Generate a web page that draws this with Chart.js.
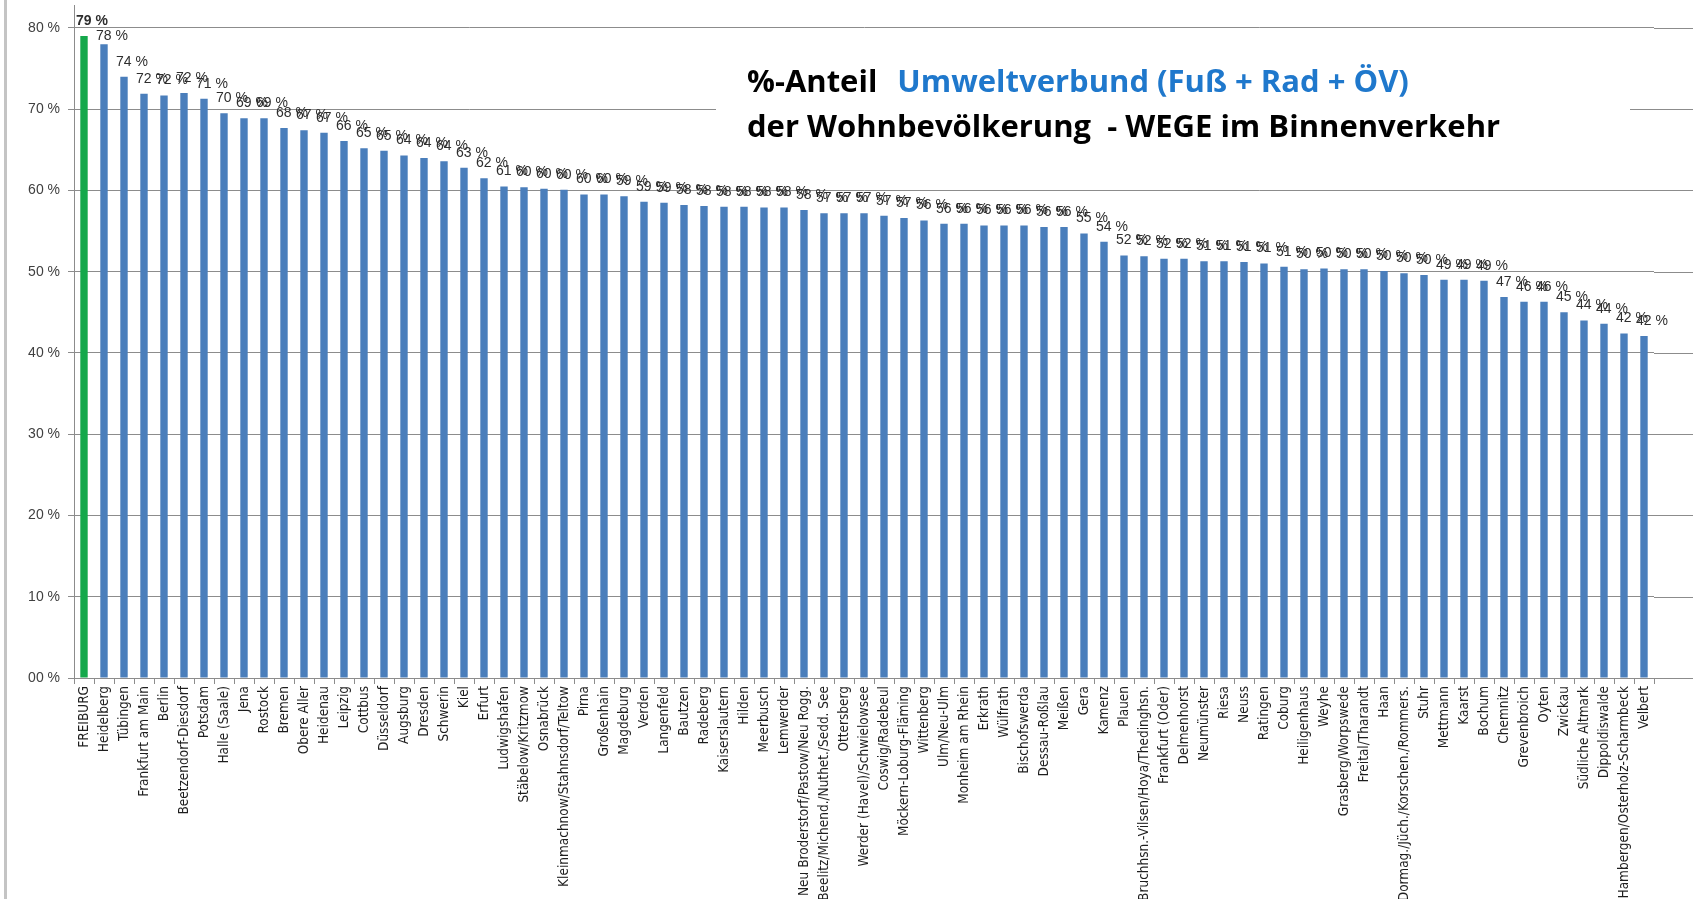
<!DOCTYPE html>
<html>
<head>
<meta charset="utf-8">
<script src="https://cdn.jsdelivr.net/npm/chart.js@4"></script>
<style>
  html, body { margin: 0; padding: 0; background: #fff; overflow: hidden; }
  #wrap { position: relative; width: 1693px; height: 899px; }
  #frame { position: absolute; left: 4px; top: 0; width: 3px; height: 899px; background: #c4c4c4; }
  canvas { position: absolute; left: 0; top: 0; }
</style>
</head>
<body>
<div id="wrap">
  <canvas id="chart" width="1693" height="899"></canvas>
  <div id="frame"></div>
</div>
<script>
// Städte / Regionen (x-Achse)
const cities = [
  'FREIBURG', 'Heidelberg', 'Tübingen', 'Frankfurt am Main', 'Berlin', 'Beetzendorf-Diesdorf', 'Potsdam',
  'Halle (Saale)', 'Jena', 'Rostock', 'Bremen', 'Obere Aller', 'Heidenau', 'Leipzig', 'Cottbus', 'Düsseldorf',
  'Augsburg', 'Dresden', 'Schwerin', 'Kiel', 'Erfurt', 'Ludwigshafen', 'Stäbelow/Kritzmow', 'Osnabrück',
  'Kleinmachnow/Stahnsdorf/Teltow', 'Pirna', 'Großenhain', 'Magdeburg', 'Verden', 'Langenfeld', 'Bautzen',
  'Radeberg', 'Kaiserslautern', 'Hilden', 'Meerbusch', 'Lemwerder', 'Neu Broderstorf/Pastow/Neu Rogg.',
  'Beelitz/Michend./Nuthet./Sedd. See', 'Ottersberg', 'Werder (Havel)/Schwielowsee', 'Coswig/Radebeul',
  'Möckern-Loburg-Fläming', 'Wittenberg', 'Ulm/Neu-Ulm', 'Monheim am Rhein', 'Erkrath', 'Wülfrath',
  'Bischofswerda', 'Dessau-Roßlau', 'Meißen', 'Gera', 'Kamenz', 'Plauen', 'Bruchhsn.-Vilsen/Hoya/Thedinghsn.',
  'Frankfurt (Oder)', 'Delmenhorst', 'Neumünster', 'Riesa', 'Neuss', 'Ratingen', 'Coburg', 'Heiligenhaus',
  'Weyhe', 'Grasberg/Worpswede', 'Freital/Tharandt', 'Haan', 'Dormag./Jüch./Korschen./Rommers.', 'Stuhr',
  'Mettmann', 'Kaarst', 'Bochum', 'Chemnitz', 'Grevenbroich', 'Oyten', 'Zwickau', 'Südliche Altmark',
  'Dippoldiswalde', 'Hambergen/Osterholz-Scharmbeck', 'Velbert'
];

// Anteil Umweltverbund in %
const shares = [
  79.0, 78.0, 74.0, 71.9, 71.7, 72.0, 71.3,
  69.5, 68.9, 68.9, 67.7, 67.4, 67.1, 66.1, 65.2, 64.9,
  64.3, 64.0, 63.6, 62.8, 61.5, 60.5, 60.4, 60.2,
  60.1, 59.5, 59.5, 59.3, 58.6, 58.5, 58.2,
  58.1, 58.0, 58.0, 57.9, 57.9, 57.6,
  57.2, 57.2, 57.2, 56.9,
  56.6, 56.3, 55.9, 55.9, 55.7, 55.7,
  55.7, 55.5, 55.5, 54.7, 53.7, 52.0, 51.9,
  51.6, 51.6, 51.3, 51.3, 51.2, 51.0, 50.6, 50.3,
  50.4, 50.3, 50.3, 50.1, 49.8, 49.6,
  49.0, 49.0, 48.9, 46.9, 46.3, 46.3, 45.0, 44.0,
  43.6, 42.4, 42.1
];

// y-Achse: Beschriftung alle 10 %
const yTicks = [0, 10, 20, 30, 40, 50, 60, 70, 80];

const titleLine1a = '%-Anteil';
const titleLine1b = 'Umweltverbund (Fuß + Rad + ÖV)';
const titleLine2 = 'der Wohnbevölkerung  - WEGE im Binnenverkehr';

const blue = '#4a7ebb';
const green = '#15a84b';
const gridColor = '#8c8c8c';
const narrowFont = "'Liberation Sans Narrow', 'DejaVu Sans Condensed', 'Liberation Sans', sans-serif";

// Balkenbeschriftung "xx %"
const valueLabels = {
    id: 'valueLabels',
    afterDatasetsDraw(chart) {
        const ctx = chart.ctx;
        const meta = chart.getDatasetMeta(0);
        ctx.save();
        ctx.textAlign = 'center';
        ctx.textBaseline = 'middle';
        ctx.fillStyle = '#2e2e2e';
        meta.data.forEach((bar, i) => {
            ctx.font = (i === 0 ? 'bold ' : '') + "14px 'Liberation Sans', sans-serif";
            const off = i === 1 ? 8 : 15;
            ctx.fillText(Math.round(shares[i]) + ' %', bar.x + 8, bar.y - off);
        });
        ctx.restore();
    }
};

// Gitterlinien bis zum rechten Bildrand verlängern
const gridExtend = {
    id: 'gridExtend',
    beforeDatasetsDraw(chart) {
        const ctx = chart.ctx;
        const y = chart.scales.y;
        ctx.save();
        ctx.strokeStyle = gridColor;
        ctx.lineWidth = 1;
        yTicks.forEach(v => {
            const py = Math.round(y.getPixelForValue(v)) + 0.5;
            ctx.beginPath();
            ctx.moveTo(chart.chartArea.right, py);
            ctx.lineTo(chart.width, py);
            ctx.stroke();
        });
        ctx.restore();
    }
};

// Titel im weißen Kasten
const titleBox = {
    id: 'titleBox',
    afterDraw(chart) {
        const ctx = chart.ctx;
        ctx.save();
        ctx.fillStyle = '#fff';
        ctx.fillRect(716, 52, 914, 100);
        ctx.textBaseline = 'middle';
        ctx.textAlign = 'left';
        ctx.font = "bold 31px 'Open Sans', sans-serif";
        ctx.fillStyle = '#000';
        ctx.fillText(titleLine1a, 747, 83);
        const w = ctx.measureText(titleLine1a).width;
        ctx.fillStyle = '#1f78cc';
        ctx.fillText(titleLine1b, 747 + w + 20, 83);
        ctx.fillStyle = '#000';
        ctx.fillText(titleLine2, 747, 128);
        ctx.restore();
    }
};

const ctx = document.getElementById('chart').getContext('2d');
new Chart(ctx, {
    type: 'bar',
    data: {
        labels: cities,
        datasets: [{
            data: shares,
            backgroundColor: shares.map((v, i) => i === 0 ? green : blue),
            barPercentage: 0.37,
            categoryPercentage: 1.0
        }]
    },
    options: {
        responsive: false,
        animation: false,
        layout: { padding: { left: 4, right: 39, top: 5, bottom: 0 } },
        plugins: {
            legend: { display: false },
            tooltip: { enabled: false }
        },
        scales: {
            x: {
                afterFit: (s) => { s.height = 221; s.paddingLeft = 0; s.paddingRight = 0; },
                grid: { drawOnChartArea: false, drawTicks: true, tickLength: 6, color: gridColor, offset: true },
                border: { display: true, color: gridColor },
                ticks: {
                    autoSkip: false,
                    maxRotation: 90,
                    minRotation: 90,
                    padding: 2,
                    color: '#1e1e1e',
                    font: { family: narrowFont, size: 13.5 }
                }
            },
            y: {
                min: 0,
                max: 82.83,
                afterFit: (s) => { s.width = 70; s.paddingTop = 0; s.paddingBottom = 0; },
                afterBuildTicks: (s) => { s.ticks = yTicks.map(v => ({ value: v })); },
                grid: { color: gridColor, tickLength: 6 },
                border: { display: true, color: gridColor },
                ticks: {
                    padding: 8,
                    color: '#404040',
                    font: { family: "'Liberation Sans', sans-serif", size: 14 },
                    callback: (v) => (v === 0 ? '00' : v) + ' %'
                }
            }
        }
    },
    plugins: [gridExtend, valueLabels, titleBox]
});
</script>
</body>
</html>
